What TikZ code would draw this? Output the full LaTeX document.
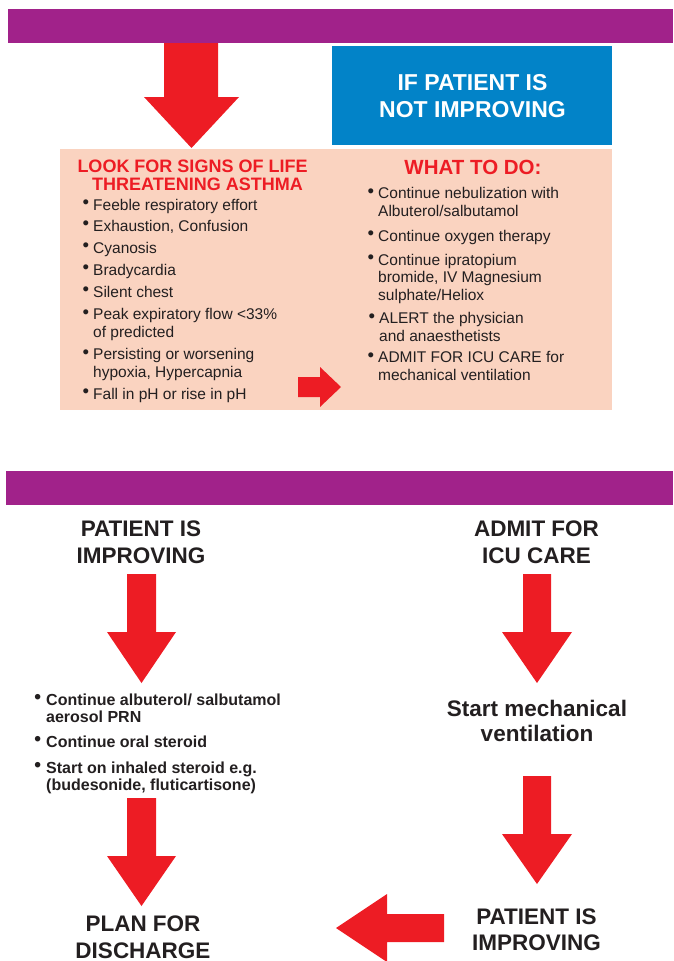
\documentclass[tikz,border=0pt]{standalone}
\usepackage{fontspec}
\setmainfont{Liberation Sans}
\definecolor{barpurple}{HTML}{A1228A}
\definecolor{arrowred}{HTML}{ED1C24}
\definecolor{boxblue}{HTML}{0283C8}
\definecolor{salmon}{HTML}{FAD3C0}
\definecolor{ink}{HTML}{231F20}
\newcommand\bu{\llap{\raisebox{1.2pt}{\scalebox{1.2}{\textbullet}}\hspace{4pt}}}
\newcommand\bub{\llap{\raisebox{1.2pt}{\scalebox{1.2}{\textbullet}}\hspace{5pt}}}
\begin{document}
\begin{tikzpicture}[x=1pt,y=-1pt,
  bodytxt/.style={font=\fontsize{15.5}{17.8}\selectfont, text=ink, align=left, anchor=base west, inner sep=0pt},
  boldtxt/.style={font=\bfseries\fontsize{16}{17.5}\selectfont, text=ink, align=left, anchor=base west, inner sep=0pt},
  headtxt/.style={font=\bfseries\fontsize{22.5}{27}\selectfont, text=ink, align=center, anchor=base, inner sep=0pt},
  redtitle/.style={font=\bfseries\fontsize{18}{18}\selectfont, text=arrowred, anchor=base, inner sep=0pt},
  bluetxt/.style={font=\bfseries\fontsize{23}{27}\selectfont, text=white, align=center, anchor=base, inner sep=0pt},
  blockarrow/.style={fill=arrowred, draw=none}]
\useasboundingbox (0,0) rectangle (673,961);

% top bar
\fill[barpurple] (8,9) rectangle (673,43);
% top arrow
\fill[blockarrow] (164,43) -- (218,43) -- (218,97) -- (239,97) -- (191.5,148) -- (144,97) -- (164,97) -- cycle;
% blue box
\fill[boxblue] (332,46) rectangle (612,145);
\node[bluetxt] (blue) at (472.5,117) {IF PATIENT IS\\NOT IMPROVING};
% salmon box
\fill[salmon] (60,149) rectangle (612,410);

\node[redtitle] (lt1) at (192.5,172) {LOOK FOR SIGNS OF LIFE};
\node[redtitle] (lt2) at (197.5,190) {THREATENING ASTHMA};

\node[bodytxt] (l1) at (93,210) {\bu Feeble respiratory effort};
\node[bodytxt] (l2) at (93,231) {\bu Exhaustion, Confusion};
\node[bodytxt] (l3) at (93,253) {\bu Cyanosis};
\node[bodytxt] (l4) at (93,275) {\bu Bradycardia};
\node[bodytxt] (l5) at (93,297) {\bu Silent chest};
\node[bodytxt] (l6) at (93,337) {\bu Peak expiratory flow <33\%\\of predicted};
\node[bodytxt] (l7) at (93,377) {\bu Persisting or worsening\\hypoxia, Hypercapnia};
\node[bodytxt] (l8) at (93,399) {\bu Fall in pH or rise in pH};

% small arrow
\fill[blockarrow] (298,377) -- (320,377) -- (320,367) -- (341,387) -- (320,407) -- (320,397) -- (298,397) -- cycle;

\node[redtitle, font=\bfseries\fontsize{20.5}{20}\selectfont] (rt) at (473,174) {WHAT TO DO:};
\node[bodytxt] (r1) at (378,216) {\bu Continue nebulization with\\Albuterol/salbutamol};
\node[bodytxt] (r2) at (378,241) {\bu Continue oxygen therapy};
\node[bodytxt] (r3) at (378,300.6) {\bu Continue ipratopium\\bromide, IV Magnesium\\sulphate/Heliox};
\node[bodytxt] (r4) at (379,341) {\bu ALERT the physician\\and anaesthetists};
\node[bodytxt] (r5) at (378,380) {\bu ADMIT FOR ICU CARE for\\mechanical ventilation};

% bottom bar
\fill[barpurple] (6,471) rectangle (673,505);

\node[headtxt] (pi1) at (141,563) {PATIENT IS\\IMPROVING};
\node[headtxt] (icu) at (536.5,563) {ADMIT FOR\\ICU CARE};

% left column arrows
\fill[blockarrow] (127,574) -- (156,574) -- (156,632) -- (176,632) -- (141.5,683) -- (107,632) -- (127,632) -- cycle;
\node[boldtxt] (b1) at (46,722.5) {\bub Continue albuterol/ salbutamol\\aerosol PRN};
\node[boldtxt] (b2) at (46,747) {\bub Continue oral steroid};
\node[boldtxt] (b3) at (46,790.5) {\bub Start on inhaled steroid e.g.\\(budesonide, fluticartisone)};
\fill[blockarrow] (127,798) -- (156,798) -- (156,856) -- (176,856) -- (141.5,906) -- (107,856) -- (127,856) -- cycle;
\node[headtxt] (plan) at (143,958) {PLAN FOR\\DISCHARGE};

% right column arrows
\fill[blockarrow] (523,574) -- (551,574) -- (551,632) -- (572,632) -- (537,683) -- (502,632) -- (523,632) -- cycle;
\node[headtxt, font=\bfseries\fontsize{22.5}{25}\selectfont] (mv) at (537,741) {Start mechanical\\ventilation};
\fill[blockarrow] (523,776) -- (551,776) -- (551,834) -- (572,834) -- (537,884) -- (502,834) -- (523,834) -- cycle;
\node[headtxt, font=\bfseries\fontsize{22.5}{26}\selectfont] (pi2) at (536.5,950) {PATIENT IS\\IMPROVING};
% left arrow
\fill[blockarrow] (444,914) -- (444,942) -- (387,942) -- (387,962) -- (336,928) -- (387,894) -- (387,914) -- cycle;
\end{tikzpicture}
\end{document}
